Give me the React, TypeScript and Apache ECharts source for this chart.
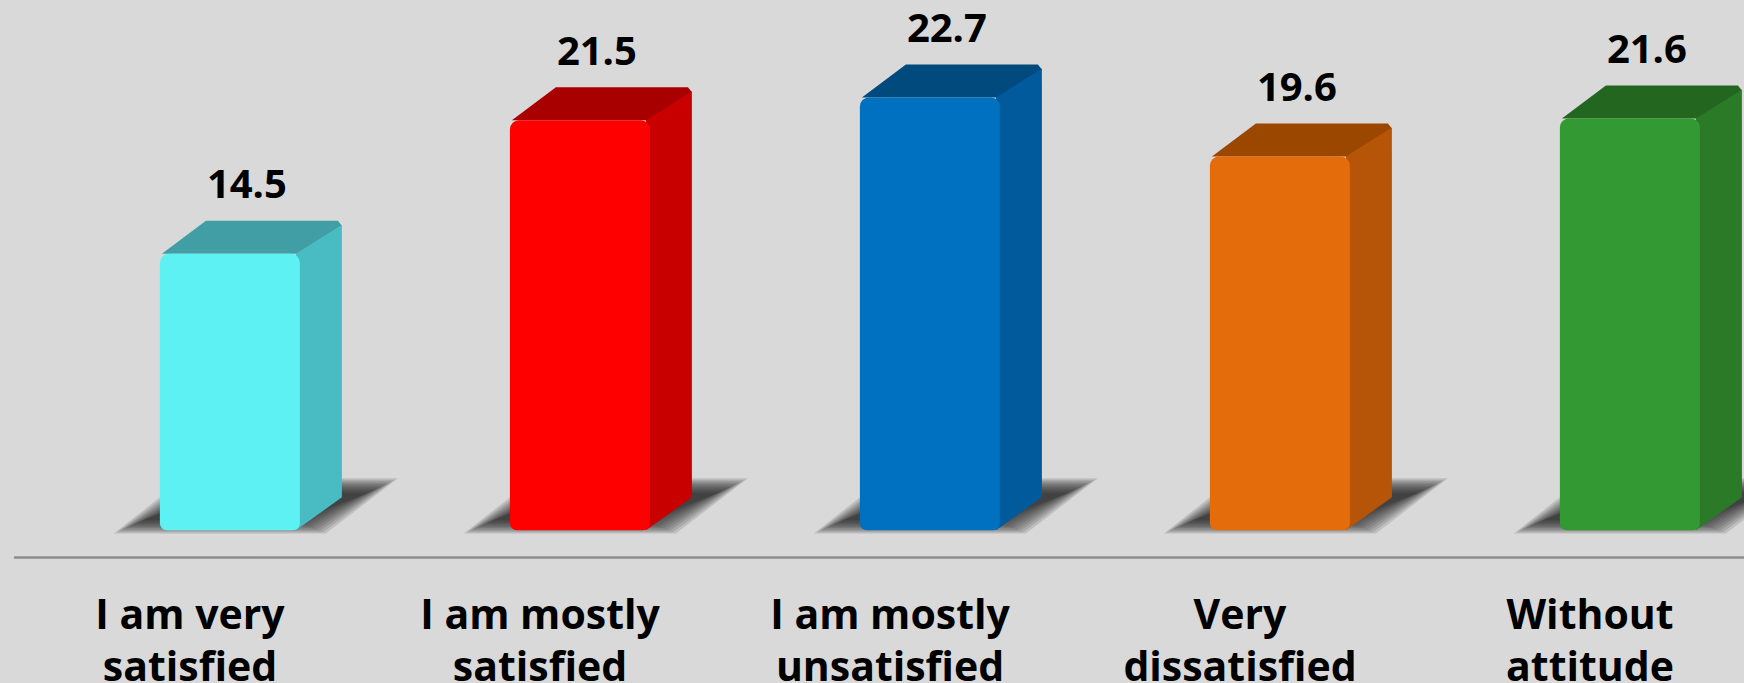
import React, { useEffect, useRef } from "react";
import * as echarts from "echarts";

const categories = [
  "I am very\nsatisfied",
  "I am mostly\nsatisfied",
  "I am mostly\nunsatisfied",
  "Very\ndissatisfied",
  "Without\nattitude",
];
const values = [14.5, 21.5, 22.7, 19.6, 21.6];

const frontColors = ["#5EF1F4", "#FF0000", "#0070C0", "#E46C0A", "#339933"];
const topColors = ["#409EA4", "#A80000", "#004A7E", "#9C4700", "#22661F"];
const sideColors = ["#49BBC3", "#C90000", "#005A9C", "#B65508", "#2A7A28"];

export default function App() {
  const ref = useRef<HTMLDivElement>(null);
  useEffect(() => {
    if (!ref.current) return;
    const chart = echarts.init(ref.current, null, { renderer: "svg" });
    const FONT = "'Open Sans', 'DejaVu Sans', sans-serif";
    chart.setOption({
      animation: false,
      backgroundColor: "#D9D9D9",
      grid: {
        left: 15,
        width: 1750,
        top: 4,
        bottom: 126,
        containLabel: false,
        outerBoundsMode: "none",
      },
      xAxis: {
        type: "category",
        data: categories,
        axisLine: { show: true, onZero: false, lineStyle: { color: "#8C8C8C", width: 2.5 } },
        axisTick: { show: false },
        axisLabel: {
          interval: 0,
          color: "#000",
          fontFamily: FONT,
          fontWeight: "bold",
          fontSize: 41,
          lineHeight: 52,
          margin: 30,
        },
        splitLine: { show: false },
      },
      yAxis: {
        type: "value",
        min: -1.4,
        max: 27.6,
        show: false,
        splitLine: { show: false },
      },
      series: [
        {
          type: "custom",
          data: values.map((v, i) => [i, v]),
          encode: { x: 0, y: 1 },
          clip: false,
          renderItem: (params: any, api: any) => {
            const idx = api.value(0);
            const val = api.value(1);
            const topPt = api.coord([idx, val]);
            const basePt = api.coord([idx, 0]);
            const band = api.size([1, 0])[0];
            const w = band * 0.4;
            const off = band * 0.114;
            const x0 = topPt[0] + off - w / 2;
            const x1 = x0 + w;
            const top = topPt[1];
            const base = basePt[1];
            const dx = 42;
            const dy = -33;
            const i = params.dataIndex;
            const shadowLayers: any[] = [];
            for (let k = 0; k < 11; k++) {
              const t = 16 - k * 3;
              shadowLayers.push({
                type: "polygon",
                shape: {
                  points: [
                    [x0 - 30 - t, base - 4 + t * 0.45],
                    [x0 + 150 + t, base - 4 + t * 0.45],
                    [x0 + 222 + t, base - 44 - t * 0.5],
                    [x0 + 40 - t, base - 44 - t * 0.5],
                  ],
                },
                style: { fill: "rgba(35,35,35,0.14)" },
              });
            }
            return {
              type: "group",
              children: [
                ...shadowLayers,
                {
                  type: "polygon",
                  shape: {
                    points: [
                      [x0 + 2, top],
                      [x0 + dx + 4, top + dy],
                      [x1 + dx - 4, top + dy],
                      [x1 + dx, top + dy + 5],
                      [x1, top],
                    ],
                  },
                  style: { fill: topColors[i] },
                },
                {
                  type: "polygon",
                  shape: {
                    points: [
                      [x1 - 4, top],
                      [x1 + dx, top + dy + 4],
                      [x1 + dx, base + dy],
                      [x1 - 4, base],
                    ],
                  },
                  style: { fill: sideColors[i] },
                },
                {
                  type: "rect",
                  shape: { x: x0, y: top, width: w, height: base - top, r: [9, 9, 7, 7] },
                  style: { fill: frontColors[i] },
                },
                {
                  type: "text",
                  style: {
                    text: String(val),
                    x: x0 + w / 2 + 17,
                    y: top - 71,
                    align: "center",
                    verticalAlign: "middle",
                    fontFamily: FONT,
                    fontWeight: "bold",
                    fontSize: 40,
                    fill: "#000",
                  },
                },
              ],
            };
          },
        },
      ],
    });
    return () => chart.dispose();
  }, []);
  return (
    <div
      ref={ref}
      style={{ position: "fixed", left: 0, top: 0, width: 1744, height: 683 }}
    />
  );
}
